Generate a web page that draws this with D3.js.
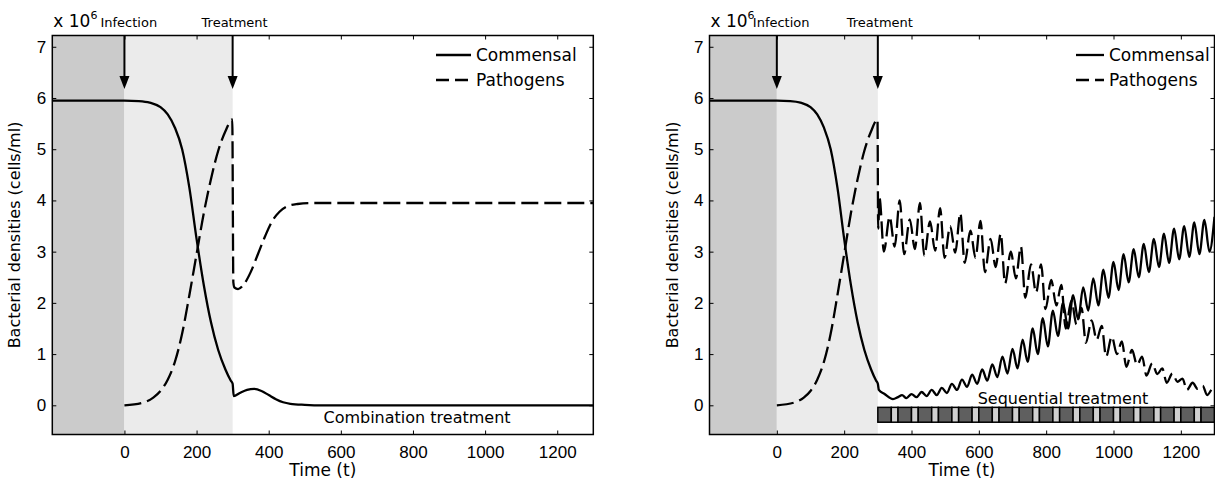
<!DOCTYPE html>
<html>
<head>
<meta charset="utf-8">
<script src="https://cdn.jsdelivr.net/npm/d3@7"></script>
<style>
  body { margin: 0; background: #fff; }
  svg { display: block; font-family: "DejaVu Sans", sans-serif; }
  .tick text { font-size: 17px; fill: #000; }
  .tick line { stroke: #000; }
</style>
</head>
<body>
<svg id="chart" width="1215" height="481"></svg>
<script>
'use strict';

// time axis ticks and y ticks
const xTicks = [0, 200, 400, 600, 800, 1000, 1200];
const yTicks = [0, 1, 2, 3, 4, 5, 6, 7];

// shared pre-treatment phase
const commensalPre = [[-200, 5.95], [0, 5.95], [40, 5.94], [70, 5.91], [100, 5.82], [120, 5.68],
  [140, 5.42], [160, 5.0], [180, 4.25], [200, 3.25], [220, 2.35], [240, 1.62], [260, 1.08],
  [280, 0.7], [295, 0.48], [300, 0.42]];
const pathogenPre = [[0, 0], [50, 0.05], [80, 0.15], [100, 0.28], [120, 0.5], [140, 0.85],
  [160, 1.4], [180, 2.15], [200, 2.95], [220, 3.75], [240, 4.42], [260, 4.97], [280, 5.35], [299, 5.58]];

// combination treatment (left)
const commensalCombo = [[303, 0.18], [320, 0.24], [340, 0.3], [360, 0.32], [380, 0.28], [400, 0.2],
  [420, 0.12], [440, 0.06], [460, 0.03], [500, 0.01], [550, 0], [1300, 0]];
const pathogenCombo = [[302, 2.4], [305, 2.3], [315, 2.27], [330, 2.35], [350, 2.6], [370, 2.95],
  [390, 3.3], [410, 3.6], [430, 3.78], [450, 3.88], [480, 3.93], [520, 3.95], [1300, 3.95]];

// sequential treatment (right)
const commensalSeq = [[303, 0.3], [320, 0.22], [345, 0.12], [360, 0.16], [372, 0.2], [385, 0.14],
  [400, 0.22], [415, 0.16], [430, 0.26], [445, 0.18], [460, 0.3], [475, 0.2], [490, 0.34], [505, 0.24],
  [520, 0.42], [535, 0.3], [550, 0.5], [565, 0.36], [580, 0.6], [595, 0.42], [610, 0.7], [625, 0.48],
  [640, 0.8], [655, 0.55], [670, 0.95], [685, 0.62], [700, 1.1], [715, 0.72], [730, 1.28], [745, 0.85],
  [760, 1.5], [775, 1.0], [790, 1.7], [805, 1.15], [820, 1.85], [835, 1.35], [850, 2.0], [865, 1.5],
  [880, 2.15], [895, 1.68], [910, 2.3], [925, 1.85], [940, 2.48], [955, 1.95], [970, 2.65], [985, 2.1],
  [1000, 2.8], [1015, 2.25], [1030, 2.95], [1045, 2.4], [1060, 3.05], [1075, 2.5], [1090, 3.15],
  [1105, 2.6], [1120, 3.25], [1135, 2.7], [1150, 3.35], [1165, 2.78], [1180, 3.45], [1195, 2.85],
  [1210, 3.5], [1225, 2.9], [1240, 3.57], [1255, 2.95], [1270, 3.62], [1285, 3.0], [1300, 3.68]];
const pathogenSeq = [[301, 3.45], [305, 4.05], [318, 3.0], [335, 3.68], [350, 3.1],
  [365, 4.0], [378, 2.95], [395, 3.63], [410, 3.05], [425, 3.95], [438, 2.92], [455, 3.59], [470, 3.02],
  [485, 3.85], [498, 2.88], [515, 3.5], [530, 2.98], [545, 3.75], [558, 2.78], [575, 3.41], [590, 2.88],
  [605, 3.6], [618, 2.6], [635, 3.25], [650, 2.7], [665, 3.35], [678, 2.38], [695, 3.0], [710, 2.48],
  [725, 3.1], [738, 2.1], [755, 2.75], [770, 2.2], [785, 2.75], [798, 1.88], [815, 2.45], [830, 1.95],
  [845, 2.35], [858, 1.5], [875, 2.05], [890, 1.58], [905, 1.9], [918, 1.22], [935, 1.66], [950, 1.28],
  [965, 1.55], [978, 0.95], [995, 1.34], [1010, 1.0], [1025, 1.25], [1038, 0.75], [1055, 1.08],
  [1070, 0.79], [1085, 0.95], [1098, 0.58], [1115, 0.82], [1130, 0.61], [1145, 0.72], [1158, 0.44],
  [1175, 0.62], [1190, 0.46], [1205, 0.52], [1218, 0.3], [1235, 0.44], [1250, 0.32], [1265, 0.38],
  [1278, 0.2], [1295, 0.32], [1300, 0.3]];

// drug schedule for sequential treatment: [start, end, drug]
const doses = [[300, 340, 'A'], [340, 360, 'B'], [360, 400, 'A'], [400, 420, 'B'], [420, 460, 'A'],
  [460, 480, 'B'], [480, 520, 'A'], [520, 540, 'B'], [540, 580, 'A'], [580, 600, 'B'], [600, 640, 'A'],
  [640, 660, 'B'], [660, 700, 'A'], [700, 720, 'B'], [720, 760, 'A'], [760, 780, 'B'], [780, 820, 'A'],
  [820, 840, 'B'], [840, 880, 'A'], [880, 900, 'B'], [900, 940, 'A'], [940, 960, 'B'], [960, 1000, 'A'],
  [1000, 1020, 'B'], [1020, 1060, 'A'], [1060, 1080, 'B'], [1080, 1120, 'A'], [1120, 1140, 'B'],
  [1140, 1180, 'A'], [1180, 1200, 'B'], [1200, 1240, 'A'], [1240, 1260, 'B'], [1260, 1300, 'A']];

const PANELS = [
  {left: 52.3, right: 593.3, commensal: commensalPre.concat(commensalCombo),
   pathogens: pathogenPre.concat(pathogenCombo), label: 'Combination treatment', labelX: 417,
   legendX: 471, legendLen: 35},
  {left: 709.5, right: 1214.5, commensal: commensalPre.concat(commensalSeq),
   pathogens: pathogenPre.concat(pathogenSeq), label: 'Sequential treatment', labelX: 1063,
   legendX: 1104, legendLen: 28, doses: true}
];
const TOP = 35.5, BOTTOM = 434.5;
const DASH = '17,6';
const LW = 2.3;

const svg = d3.select('#chart');

PANELS.map((p, i) => drawPanel(p, i));

function drawPanel(p, i) {
  const x = d3.scaleLinear().domain([-200, 1300]).range([p.left, p.right]);
  const y = d3.scaleLinear().domain([-0.57, 7.22]).range([BOTTOM, TOP]);
  const g = svg.append('g');

  g.append('clipPath').attr('id', 'clip' + i)
   .append('rect')
   .attr('x', p.left).attr('y', TOP)
   .attr('width', p.right - p.left).attr('height', BOTTOM - TOP);

  // shaded phases
  g.append('rect')
   .attr('x', x(-200)).attr('y', TOP)
   .attr('width', x(0) - x(-200)).attr('height', BOTTOM - TOP)
   .attr('fill', '#cbcbcb');
  g.append('rect')
   .attr('x', x(0)).attr('y', TOP)
   .attr('width', x(300) - x(0)).attr('height', BOTTOM - TOP)
   .attr('fill', '#ebebeb');

  const plot = g.append('g').attr('clip-path', 'url(#clip' + i + ')');
  const line = d3.line()
                 .x(d => x(d[0]))
                 .y(d => y(d[1]))
                 .curve(d3.curveMonotoneX);

  plot.append('path')
      .attr('fill', 'none')
      .attr('stroke', '#000')
      .attr('stroke-width', LW)
      .attr('d', line(p.commensal));
  plot.append('path')
      .attr('fill', 'none')
      .attr('stroke', '#000')
      .attr('stroke-width', LW)
      .attr('stroke-dasharray', DASH)
      .attr('d', line(p.pathogens));

  if (p.doses) {
    plot.selectAll('rect.dose')
        .data(doses)
        .enter().append('rect')
        .attr('class', 'dose')
        .attr('x', d => x(d[0]))
        .attr('y', y(-0.04))
        .attr('width', d => x(d[1]) - x(d[0]))
        .attr('height', y(-0.33) - y(-0.04))
        .attr('fill', d => d[2] === 'A' ? '#5f5f5f' : '#d0d0d0')
        .attr('stroke', '#000')
        .attr('stroke-width', 1.5);
  }

  // axes with inward ticks on all sides
  const tickLen = 4;
  g.append('g')
   .attr('transform', 'translate(0,' + BOTTOM + ')')
   .call(d3.axisBottom(x).tickValues(xTicks).tickSize(-tickLen).tickPadding(11).tickFormat(d3.format('d')))
   .call(a => a.select('.domain').remove());
  g.append('g')
   .attr('transform', 'translate(0,' + TOP + ')')
   .call(d3.axisTop(x).tickValues(xTicks).tickSize(-tickLen).tickFormat(''))
   .call(a => a.select('.domain').remove());
  g.append('g')
   .attr('transform', 'translate(' + p.left + ',0)')
   .call(d3.axisLeft(y).tickValues(yTicks).tickSize(-tickLen).tickPadding(6))
   .call(a => a.select('.domain').remove());
  g.append('g')
   .attr('transform', 'translate(' + p.right + ',0)')
   .call(d3.axisRight(y).tickValues(yTicks).tickSize(-tickLen).tickFormat(''))
   .call(a => a.select('.domain').remove());

  g.append('rect')
   .attr('x', p.left).attr('y', TOP)
   .attr('width', p.right - p.left).attr('height', BOTTOM - TOP)
   .attr('fill', 'none').attr('stroke', '#000').attr('stroke-width', 1.5);

  // event arrows
  [0, 300].map(t => {
    g.append('line')
     .attr('x1', x(t)).attr('x2', x(t))
     .attr('y1', TOP).attr('y2', 84)
     .attr('stroke', '#000').attr('stroke-width', 2);
    g.append('path')
     .attr('d', 'M' + (x(t) - 5) + ',76 L' + (x(t) + 5) + ',76 L' + x(t) + ',89 Z')
     .attr('fill', '#000');
  });
  g.append('text')
   .attr('x', x(0) - 24).attr('y', 27)
   .attr('font-size', 13)
   .text('Infection');
  g.append('text')
   .attr('x', x(300) + 2).attr('y', 27)
   .attr('text-anchor', 'middle')
   .attr('font-size', 13)
   .text('Treatment');

  const mult = g.append('text')
                .attr('x', p.left + 1).attr('y', 27)
                .attr('font-size', 17);
  mult.append('tspan').text('x 10');
  mult.append('tspan').attr('font-size', 11).attr('dy', -8).text('6');

  // legend
  const lg = g.append('g').attr('transform', 'translate(' + p.legendX + ',0)');
  lg.append('line').attr('x1', -p.legendLen).attr('x2', 0).attr('y1', 55).attr('y2', 55)
    .attr('stroke', '#000').attr('stroke-width', LW);
  lg.append('line').attr('x1', -p.legendLen).attr('x2', 0).attr('y1', 80).attr('y2', 80)
    .attr('stroke', '#000').attr('stroke-width', LW).attr('stroke-dasharray', '13,6');
  lg.append('text').attr('x', 5).attr('y', 61).attr('font-size', 17).text('Commensal');
  lg.append('text').attr('x', 5).attr('y', 86).attr('font-size', 17).text('Pathogens');

  g.append('text')
   .attr('x', p.labelX).attr('y', p.doses ? 404 : 423)
   .attr('text-anchor', 'middle')
   .attr('font-size', 16)
   .text(p.label);

  g.append('text')
   .attr('x', (p.left + p.right) / 2).attr('y', 476)
   .attr('text-anchor', 'middle')
   .attr('font-size', 17)
   .text('Time (t)');

  g.append('text')
   .attr('transform', 'translate(' + (p.left - 32) + ',' + ((TOP + BOTTOM) / 2) + ') rotate(-90)')
   .attr('text-anchor', 'middle')
   .attr('font-size', 16)
   .text('Bacterial densities (cells/ml)');
}
</script>
</body>
</html>
